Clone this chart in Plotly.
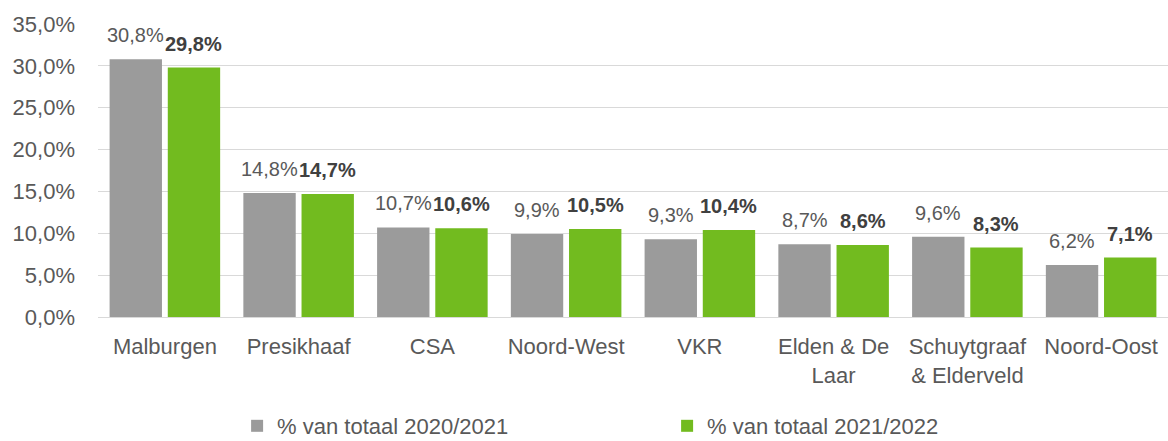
import plotly.graph_objects as go

categories = ["Malburgen", "Presikhaaf", "CSA", "Noord-West", "VKR",
              "Elden & De<br>Laar", "Schuytgraaf<br>& Elderveld", "Noord-Oost"]
series_names = ["% van totaal 2020/2021", "% van totaal 2021/2022"]
values_2021 = [30.8, 14.8, 10.7, 9.9, 9.3, 8.7, 9.6, 6.2]
values_2122 = [29.8, 14.7, 10.6, 10.5, 10.4, 8.6, 8.3, 7.1]
y_ticks = [0, 5, 10, 15, 20, 25, 30, 35]
y_tick_labels = ["0,0%", "5,0%", "10,0%", "15,0%", "20,0%", "25,0%", "30,0%", "35,0%"]

GRAY = "#9B9B9B"
GREEN = "#72BB1F"
FONT = "Liberation Sans, Arial, sans-serif"


def fmt(v):
    return f"{v:.1f}%".replace(".", ",")


fig = go.Figure()
fig.add_trace(go.Bar(x=categories, y=values_2021, name=series_names[0],
                     marker=dict(color=GRAY, line=dict(width=0))))
fig.add_trace(go.Bar(x=categories, y=values_2122, name=series_names[1],
                     marker=dict(color=GREEN, line=dict(width=0))))

annotations = []
for c, v in zip(categories, values_2021):
    annotations.append(dict(x=c, y=v, xref="x", yref="y", text=fmt(v),
                            showarrow=False, xshift=-29, yshift=24,
                            yanchor="middle",
                            font=dict(family=FONT, size=20, color="#595959")))
for c, v in zip(categories, values_2122):
    annotations.append(dict(x=c, y=v, xref="x", yref="y", text="<b>" + fmt(v) + "</b>",
                            showarrow=False, xshift=29, yshift=24,
                            yanchor="middle",
                            font=dict(family=FONT, size=20, color="#404040")))

fig.update_layout(
    width=1168, height=441,
    margin=dict(l=98, r=0, t=24, b=124),
    paper_bgcolor="white", plot_bgcolor="white",
    separators=",.",
    barmode="group", bargap=0.13, bargroupgap=0.10,
    font=dict(family=FONT, size=22, color="#595959"),
    annotations=annotations,
    legend=dict(orientation="h", xref="container", yref="container",
                x=0.203, xanchor="left", y=0.034, yanchor="middle",
                entrywidth=385, entrywidthmode="pixels",
                font=dict(family=FONT, size=22, color="#595959"),
                bgcolor="rgba(0,0,0,0)"),
)
fig.update_xaxes(type="category", range=[-0.5, 7.5], showgrid=False, showline=False,
                 ticks="", ticklabelstandoff=14,
                 tickfont=dict(family=FONT, size=22, color="#595959"))
fig.update_yaxes(range=[0, 35], tickvals=y_ticks, ticktext=y_tick_labels,
                 showgrid=True, gridcolor="#D9D9D9", gridwidth=1,
                 zeroline=True, zerolinecolor="#D9D9D9", zerolinewidth=1,
                 showline=False, ticks="", ticklabelstandoff=22,
                 tickfont=dict(family=FONT, size=22, color="#595959"))

fig.write_html("out.html", config={"displayModeBar": False},
               post_script="document.body.style.margin='0px';")
